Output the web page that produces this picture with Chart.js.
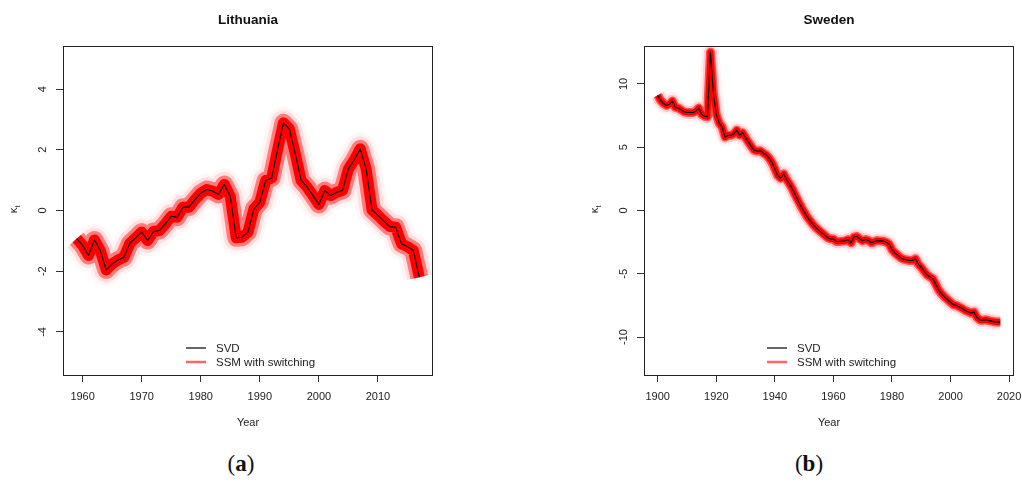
<!DOCTYPE html>
<html>
<head>
<meta charset="utf-8">
<script src="https://cdn.jsdelivr.net/npm/chart.js@4.4.1/dist/chart.umd.min.js"></script>
<style>
  body { margin: 0; background: #fff; width: 1022px; height: 483px; overflow: hidden; position: relative; }
  .panel { position: absolute; top: 0; width: 511px; height: 440px; }
  .cap { position: absolute; top: 452px; line-height: 24px; font-family: "Liberation Serif", "Times New Roman", serif;
         font-size: 23px; color: #111; transform: translateX(-50%); }
  .cap b { font-weight: bold; }
</style>
</head>
<body>
<div class="panel" style="left:0"><canvas id="chartLit" width="511" height="440"></canvas></div>
<div class="panel" style="left:511px"><canvas id="chartSwe" width="511" height="440"></canvas></div>
<div class="cap" style="left:241px">(<b>a</b>)</div>
<div class="cap" style="left:809px">(<b>b</b>)</div>

<script>
// kappa_t (SVD estimate), one value per year
const litStart = 1959;
const litSVD = [
  -0.93, -1.15, -1.48, -0.97, -1.32, -1.96, -1.76, -1.63, -1.54, -1.08,
  -0.90, -0.71, -0.99, -0.69, -0.66, -0.44, -0.19, -0.22, 0.11, 0.11,
  0.35, 0.57, 0.69, 0.64, 0.53, 0.86, 0.46, -0.90, -0.88, -0.71,
  0.05, 0.27, 0.99, 1.07, 2.00, 2.89, 2.69, 1.87, 0.99, 0.77,
  0.49, 0.20, 0.66, 0.49, 0.60, 0.66, 1.37, 1.67, 2.03, 1.37,
  0.02, -0.16, -0.35, -0.53, -0.55, -1.10, -1.19, -1.32, -2.20
];
const litXTicks = [1960, 1970, 1980, 1990, 2000, 2010];
const litYTicks = [-4, -2, 0, 2, 4];

const sweStart = 1900;
const sweSVD = [
  9.1, 8.7, 8.45, 8.3, 8.4, 8.65, 8.15, 8.1, 7.95, 7.8,
  7.75, 7.75, 7.75, 7.85, 8.1, 7.6, 7.45, 7.4, 12.5, 9.3,
  7.6, 6.9, 6.6, 5.8, 5.95, 5.95, 6.05, 6.35, 5.95, 6.15,
  5.75, 5.4, 5.05, 4.75, 4.7, 4.72, 4.55, 4.4, 4.15, 3.8,
  3.3, 2.75, 2.55, 2.9, 2.45, 2.1, 1.7, 1.2, 0.75, 0.3,
  -0.1, -0.5, -0.8, -1.1, -1.35, -1.55, -1.75, -1.95, -2.15, -2.25,
  -2.25, -2.45, -2.45, -2.42, -2.4, -2.3, -2.55, -2.1, -2.05, -2.25,
  -2.4, -2.3, -2.38, -2.55, -2.45, -2.38, -2.4, -2.42, -2.5, -2.65,
  -3.1, -3.35, -3.55, -3.75, -3.85, -3.9, -3.95, -3.95, -3.82, -4.25,
  -4.5, -4.8, -5.1, -5.25, -5.4, -5.85, -6.3, -6.6, -6.85, -7.05,
  -7.25, -7.45, -7.5, -7.62, -7.75, -7.9, -8.0, -8.1, -8.03, -8.45,
  -8.65, -8.68, -8.63, -8.7, -8.74, -8.8, -8.82, -8.82
];
const sweXTicks = [1900, 1920, 1940, 1960, 1980, 2000, 2020];
const sweYTicks = [-10, -5, 0, 5, 10];

const FONT = '"Liberation Sans", Arial, sans-serif';
Chart.defaults.font.family = FONT;

// R-style frame: box, bold title, rotated y tick labels, y label and inset legend
const frame = {
  id: 'frame',
  afterDraw(chart, args, opts) {
    const { ctx, chartArea: a } = chart;
    const y = chart.scales.y;
    ctx.save();
    ctx.strokeStyle = '#222';
    ctx.lineWidth = 1;
    ctx.strokeRect(Math.round(a.left) + 0.5, Math.round(a.top) + 0.5,
      Math.round(a.right - a.left) - 1, Math.round(a.bottom - a.top));

    ctx.fillStyle = '#111';
    ctx.textAlign = 'center';
    ctx.textBaseline = 'middle';
    ctx.font = 'bold 13.5px ' + FONT;
    ctx.fillText(opts.title, (a.left + a.right) / 2, 20);

    ctx.fillStyle = '#222';
    ctx.font = '11px ' + FONT;
    for (const t of y.ticks) {
      ctx.save();
      ctx.translate(a.left - 20, y.getPixelForValue(t.value));
      ctx.rotate(-Math.PI / 2);
      ctx.fillText(String(t.value), 0, 0);
      ctx.restore();
    }

    // kappa with subscript t
    ctx.save();
    ctx.translate(a.left - 49, (a.top + a.bottom) / 2);
    ctx.rotate(-Math.PI / 2);
    ctx.font = '11px ' + FONT;
    ctx.fillText('\u03BA', 0, 0);
    ctx.font = '7px ' + FONT;
    ctx.fillText('t', 4, 4);
    ctx.restore();

    // legend
    const names = chart.data.datasets.map(d => d.label);
    const lx = a.left + 123;
    const rows = [
      { y: a.bottom - 27, color: '#333', w: 1.5, text: names[0] },
      { y: a.bottom - 13, color: 'rgba(255,0,0,0.6)', w: 2.5, text: names[1] }
    ];
    ctx.textAlign = 'left';
    ctx.font = '11.5px ' + FONT;
    for (const r of rows) {
      ctx.strokeStyle = r.color;
      ctx.lineWidth = r.w;
      ctx.beginPath();
      ctx.moveTo(lx, r.y);
      ctx.lineTo(lx + 20, r.y);
      ctx.stroke();
      ctx.fillStyle = '#222';
      ctx.fillText(r.text, lx + 30, r.y + 0.5);
    }
    ctx.restore();
  }
};

function makeChart(id, cfg) {
  const pts = cfg.values.map((v, i) => ({ x: cfg.start + i, y: v }));
  const line = {
    pointRadius: 0, tension: 0, fill: false, clip: 0,
    borderJoinStyle: 'round', borderCapStyle: 'butt'
  };
  // SSM sample cloud drawn as stacked translucent strokes around the path
  const band = cfg.band.map(([w, color], k) => ({
    ...line, label: 'SSM with switching', data: pts,
    borderWidth: w, borderColor: color, order: k + 1
  }));
  const axisGrid = { drawOnChartArea: false, drawTicks: true, tickLength: 7, color: '#333' };

  new Chart(document.getElementById(id), {
    type: 'line',
    data: {
      datasets: [
        { ...line, label: 'SVD', data: pts, borderColor: '#000', borderWidth: 1.1, order: 0 },
        ...band
      ]
    },
    options: {
      responsive: false,
      animation: false,
      devicePixelRatio: 1,
      events: [],
      layout: { padding: { top: 46, right: cfg.padRight, left: 0, bottom: 0 } },
      plugins: {
        legend: { display: false },
        tooltip: { enabled: false },
        frame: { title: cfg.title }
      },
      scales: {
        x: {
          type: 'linear', min: cfg.xMin, max: cfg.xMax,
          afterBuildTicks: s => { s.ticks = cfg.xTicks.map(v => ({ value: v })); },
          afterFit: s => { s.height = 65; s.paddingLeft = 0; s.paddingRight = 0; },
          border: { display: false },
          grid: axisGrid,
          ticks: { color: '#222', font: { size: 11 }, padding: 8, maxRotation: 0, callback: v => String(v) },
          title: { display: true, text: 'Year', color: '#222', font: { size: 11 }, padding: { top: 0, bottom: 10 } }
        },
        y: {
          type: 'linear', min: cfg.yMin, max: cfg.yMax,
          afterBuildTicks: s => { s.ticks = cfg.yTicks.map(v => ({ value: v })); },
          afterFit: s => { s.width = cfg.axisLeft; },
          border: { display: false },
          grid: axisGrid,
          ticks: { display: false }
        }
      }
    },
    plugins: [frame]
  });
}

makeChart('chartLit', {
  title: 'Lithuania', start: litStart, values: litSVD,
  xMin: 1956.68, xMax: 2019.32, yMin: -5.42, yMax: 5.42,
  xTicks: litXTicks, yTicks: litYTicks,
  axisLeft: 63, padRight: 78,
  band: [[32, 'rgba(255,0,0,0.035)'], [25, 'rgba(255,0,0,0.09)'], [18, 'rgba(255,0,0,0.45)'], [11, '#ff0000']]
});

makeChart('chartSwe', {
  title: 'Sweden', start: sweStart, values: sweSVD,
  xMin: 1895.32, xMax: 2021.68, yMin: -13, yMax: 13,
  xTicks: sweXTicks, yTicks: sweYTicks,
  axisLeft: 133, padRight: 8,
  band: [[18, 'rgba(255,0,0,0.05)'], [13, 'rgba(255,0,0,0.15)'], [9, 'rgba(255,0,0,0.6)'], [6, '#ff0000']]
});
</script>
</body>
</html>
